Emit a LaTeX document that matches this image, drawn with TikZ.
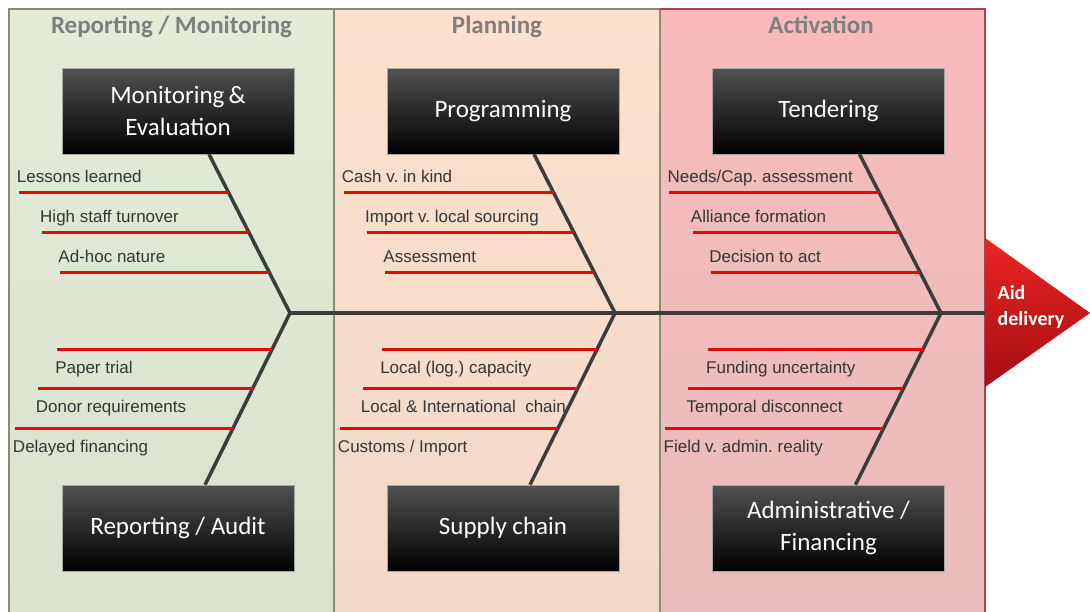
\documentclass[tikz,border=0pt]{standalone}
\usepackage{fontspec}
\setmainfont{Liberation Sans}
\newfontfamily\calibri{Carlito}
\usetikzlibrary{positioning}
\frenchspacing

\definecolor{greenpane}{HTML}{E3ECD9}
\definecolor{greenpaneb}{HTML}{D9E2CF}
\definecolor{peachpane}{HTML}{FDE1CD}
\definecolor{peachpaneb}{HTML}{F1D8C7}
\definecolor{pinkpane}{HTML}{F8BABC}
\definecolor{pinkpaneb}{HTML}{E9BDBD}
\definecolor{paneline}{HTML}{8E8A72}
\definecolor{pinkline}{HTML}{B0404E}
\definecolor{bonegray}{HTML}{3C3C3C}
\definecolor{ribred}{HTML}{E20A0A}
\definecolor{headgray}{HTML}{7F7F7F}
\definecolor{lblgray}{HTML}{353535}
\definecolor{arrowtop}{HTML}{EC2424}
\definecolor{arrowbot}{HTML}{A40E12}

\tikzset{
  causebox/.style={draw=gray!70, top color=black!68, bottom color=black, text=white,
    minimum width=232pt, minimum height=86pt, align=center,
    font=\calibri\fontsize{25}{32}\selectfont},
  header/.style={anchor=base, text=headgray, font=\calibri\bfseries\fontsize{25}{30}\selectfont},
  bone/.style={bonegray, line width=3.5pt},
  rib/.style={ribred, line width=3pt},
  toplbl/.style={anchor=base west, inner sep=0pt, xshift=-2pt, yshift=10pt,
    text=lblgray, font=\fontsize{17}{20}\selectfont},
  botlbl/.style={anchor=base west, inner sep=0pt, xshift=-2pt, yshift=-24pt,
    text=lblgray, font=\fontsize{17}{20}\selectfont}
}

\begin{document}
\begin{tikzpicture}[x=1pt, y=-1pt]
  \useasboundingbox (0,0) rectangle (1090,611);
  % panels
  \shade[top color=greenpane, bottom color=greenpaneb] (9,9) rectangle (334,616);
  \shade[top color=peachpane, bottom color=peachpaneb] (334,9) rectangle (660,616);
  \shade[top color=pinkpane, bottom color=pinkpaneb] (660,9) rectangle (985,616);
  \draw[paneline, line width=1.2pt] (9,616) -- (9,9) -- (660,9) (334,9) -- (334,616) (660,9) -- (660,616);
  \draw[pinkline, line width=1.5pt] (660,9) -- (985,9) -- (985,616);
  \node[header] (hrep) at (171.5,33) {Reporting / Monitoring};
  \node[header] (hplan) at (497,33) {Planning};
  \node[header] (hact) at (821,33) {Activation};

  % cause boxes
  \node[causebox] (t1) at (178,111) {Monitoring\,\&\\Evaluation};
  \node[causebox] (b1) at (178,528) {Reporting / Audit};
  \node[causebox] (t2) at (503,111) {Programming};
  \node[causebox] (b2) at (503,528) {Supply chain};
  \node[causebox] (t3) at (828.5,111) {Tendering};
  \node[causebox] (b3) at (828.5,528) {Administrative /\\Financing};

  % head of the fish
  \coordinate (hd1) at (985,238);
  \coordinate (tip) at (1090,313);
  \coordinate (hd2) at (985,387);
  \shade[top color=arrowtop, bottom color=arrowbot] (hd1) -- (tip) -- (hd2) -- cycle;
  \node[text=white, align=left, font=\calibri\bfseries\fontsize{20}{26}\selectfont] (aid) at (1031,307) {Aid\\delivery};
  \coordinate (spineend) at (hd1 |- tip);

  % bones and ribs
  \foreach \c/\x in {1/290,2/615,3/941} {
    \coordinate (j\c) at (\x,313);
    \draw[bone] ([xshift=31pt]t\c.south) -- coordinate[pos=.244] (tr\c1) coordinate[pos=.494] (tr\c2)
      coordinate[pos=.744] (tr\c3) (j\c);
    \draw[bone] (j\c) -- coordinate[pos=.211] (br\c1) coordinate[pos=.439] (br\c2)
      coordinate[pos=.673] (br\c3) ([xshift=27pt]b\c.north);
    \foreach \i/\w in {1/210,2/207,3/209} \draw[rib] (tr\c\i) -- ++(-\w,0) coordinate (tl\c\i);
    \foreach \i/\w in {1/215,2/215,3/218} \draw[rib] (br\c\i) -- ++(-\w,0) coordinate (bl\c\i);
  }
  \draw[bone] (j1) -- (j2) -- (j3) -- (spineend);

  % labels
  \node[toplbl] (c11) at (tl11) {Lessons learned};
  \node[toplbl] (c12) at (tl12) {High staff turnover};
  \node[toplbl] (c13) at (tl13) {Ad-hoc nature};
  \node[botlbl] (d11) at (bl11) {Paper trial};
  \node[botlbl] (d12) at (bl12) {Donor requirements};
  \node[botlbl] (d13) at (bl13) {Delayed financing};
  \node[toplbl] (c21) at (tl21) {Cash v. in kind};
  \node[toplbl] (c22) at (tl22) {Import v. local sourcing};
  \node[toplbl] (c23) at (tl23) {Assessment};
  \node[botlbl] (d21) at (bl21) {Local (log.) capacity};
  \node[botlbl] (d22) at (bl22) {Local \& International\ \ chain};
  \node[botlbl] (d23) at (bl23) {Customs / Import};
  \node[toplbl] (c31) at (tl31) {Needs/Cap. assessment};
  \node[toplbl] (c32) at (tl32) {Alliance formation};
  \node[toplbl] (c33) at (tl33) {Decision to act};
  \node[botlbl] (d31) at (bl31) {Funding uncertainty};
  \node[botlbl] (d32) at (bl32) {Temporal disconnect};
  \node[botlbl] (d33) at (bl33) {Field v. admin. reality};
\end{tikzpicture}
\end{document}
